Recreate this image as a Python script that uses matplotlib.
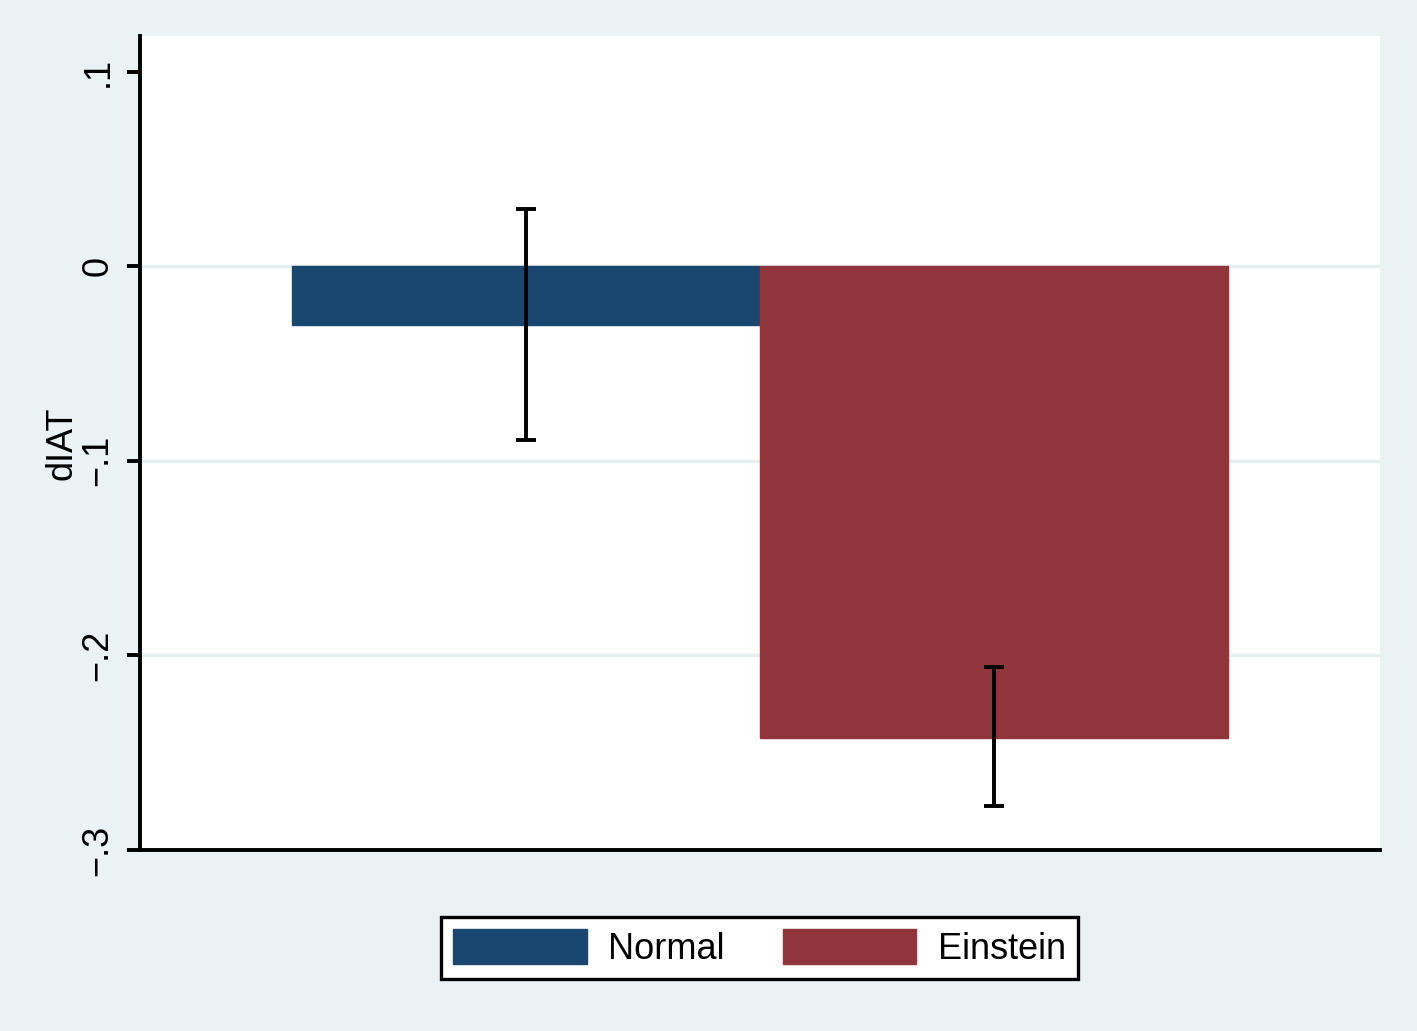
import matplotlib
matplotlib.use("Agg")
import matplotlib.pyplot as plt
from matplotlib.patches import Patch

plt.rcParams['font.family'] = ['Liberation Sans', 'DejaVu Sans']

groups = ["Normal", "Einstein"]
means = [-0.0303, -0.2422]
ci_low = [-0.0895, -0.2776]
ci_high = [0.0293, -0.2062]
colors = ["#1A476F", "#90353B"]
yticks = [0.1, 0.0, -0.1, -0.2, -0.3]
ytick_labels = [".1", "0", "-.1", "-.2", "-.3"]
ytick_labels = [t.replace("-", "\u2212") for t in ytick_labels]
grid_vals = [0.0, -0.1, -0.2]

bg = "#EAF2F3"
fig = plt.figure(figsize=(14.17, 10.31), dpi=100, facecolor=bg)
ax = fig.add_axes([140/1417, 1-850/1031, 1240/1417, (850-36)/1031])
ax.set_facecolor("white")

lw = 2.8
xpos = [1, 2]
for x, m, c in zip(xpos, means, colors):
    ax.bar(x, m, width=1.0, color=c, edgecolor=c, linewidth=1, zorder=2)

for x, lo, hi in zip(xpos, ci_low, ci_high):
    ax.plot([x, x], [lo, hi], color="black", lw=lw, zorder=3, solid_capstyle="butt")
    for v in (lo, hi):
        ax.plot([x - 0.021, x + 0.021], [v, v], color="black", lw=lw, zorder=3, solid_capstyle="butt")

for g in grid_vals:
    ax.axhline(g, color="#E6EEEF", lw=2.5, zorder=1)

ax.set_xlim(0.175, 2.825)
ax.set_ylim(-0.3, 0.1183)
ax.set_xticks([])
ax.set_yticks(yticks)
ax.set_yticklabels(ytick_labels, rotation=90, va="center", fontsize=26)
ax.tick_params(axis="y", length=9.5, width=lw, pad=8, color="black")

for s in ["top", "right"]:
    ax.spines[s].set_visible(False)
for s in ["left", "bottom"]:
    ax.spines[s].set_linewidth(lw)
    ax.spines[s].set_color("black")

ax.set_ylabel("dIAT", fontsize=26, labelpad=1)

handles = [Patch(facecolor=c, edgecolor=c) for c in colors]
leg = fig.legend(handles, groups, loc="center", bbox_to_anchor=(759.5/1417, 1-948/1031),
                 ncol=2, fontsize=26, frameon=True, fancybox=False, framealpha=1,
                 handlelength=3.7, handleheight=1.1, handletextpad=0.6,
                 columnspacing=1.6, borderpad=0.33, borderaxespad=0)
leg.get_frame().set_edgecolor("black")
leg.get_frame().set_linewidth(2.4)
leg.get_frame().set_facecolor("white")

fig.savefig("out.png", dpi=100, facecolor=bg)
